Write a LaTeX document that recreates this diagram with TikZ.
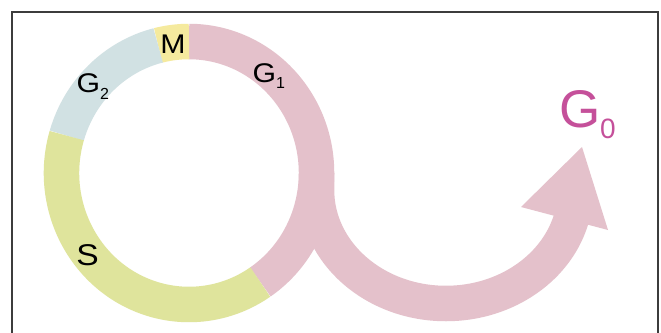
\documentclass[tikz,border=0pt]{standalone}
\usepackage{fontspec}
\setmainfont{Liberation Sans}
\usetikzlibrary{calc}
\definecolor{gpink}{HTML}{E4C1CB}
\definecolor{sgreen}{HTML}{DFE49C}
\definecolor{gblue}{HTML}{D1E1E3}
\definecolor{myellow}{HTML}{F5EA9E}
\definecolor{gmag}{HTML}{C5509A}
\definecolor{framegray}{HTML}{3C3C3C}
\tikzset{
  band/.style={line width=35.5pt, line cap=butt},
  phase/.style={inner sep=0pt, outer sep=0pt, text=black},
}
\newcommand{\lbl}[2]{\scalebox{1.12}[1]{\fontsize{#1}{#1}\selectfont #2}}
\begin{document}
\begin{tikzpicture}[x=1pt,y=1pt]
\clip (0,0) rectangle (661,-332);
\fill[white] (0,0) rectangle (661,-332);
% frame
\draw[framegray, line width=1.6pt] (12,-345) -- (12,-12) -- (658,-12) -- (658,-345);
% ring centre
\coordinate (c) at (189,-173);
% G1 segment of ring
\draw[band, gpink] ($(c)+({127.5*cos(-56)},{131.5*sin(-56)})$) arc[start angle=-56, end angle=90, x radius=127.5, y radius=131.5];
% M
\draw[band, myellow] ($(c)+({127.5*cos(90)},{131.5*sin(90)})$) arc[start angle=90, end angle=104, x radius=127.5, y radius=131.5];
% G2
\draw[band, gblue] ($(c)+({127.5*cos(104)},{131.5*sin(104)})$) arc[start angle=104, end angle=163.5, x radius=127.5, y radius=131.5];
% S
\draw[band, sgreen] ($(c)+({127.5*cos(163.5)},{131.5*sin(163.5)})$) arc[start angle=163.5, end angle=304, x radius=127.5, y radius=131.5];
% S-curve to G0
\coordinate (stem) at (316.5,-173);
\draw[band, gpink] (stem) -- (316.5,-190) arc[start angle=180, end angle=347, x radius=129.5, y radius=113.5] coordinate (shaftend);
% arrow head
\coordinate (barbl) at (521,-207);
\coordinate (barbr) at (608,-230);
\coordinate (tip) at (582,-147);
\fill[gpink] (barbl) -- (tip) -- (barbr) -- cycle;
% labels
\node[phase, anchor=base] (M) at (173,-53) {\lbl{27}{M}};
\node[phase, anchor=base west] (G1) at (252.5,-82) {\lbl{27}{G}\raisebox{-6pt}{\fontsize{16}{16}\selectfont 1}};
\node[phase, anchor=base west] (G2) at (76.5,-92) {\lbl{27}{G}\raisebox{-7pt}{\fontsize{16}{16}\selectfont 2}};
\node[phase, anchor=base] (S) at (87.5,-265) {\lbl{30}{S}};
\node[phase, anchor=base west, text=gmag] (G0) at (559,-127) {\fontsize{53}{53}\selectfont G\raisebox{-11pt}{\fontsize{28}{28}\selectfont 0}};
\end{tikzpicture}
\end{document}
